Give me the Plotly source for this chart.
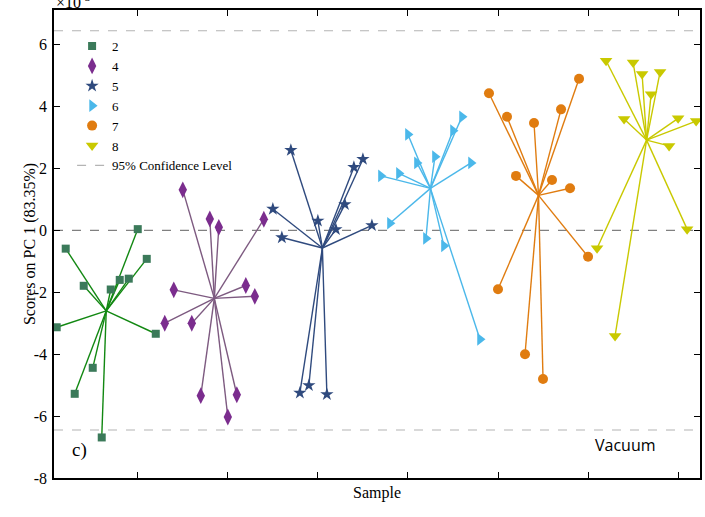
import plotly.graph_objects as go

# ---- data ----
group_names = ["2", "4", "5", "6", "7", "8"]

samples_2 = list(range(1, 13))
samples_4 = list(range(13, 25))
samples_5 = list(range(25, 37))
samples_6 = list(range(37, 49))
samples_7 = list(range(49, 61))
samples_8 = list(range(61, 73))

scores_2 = [-3.13, -0.59, -5.28, -1.79, -4.44, -6.69, -1.91, -1.60, -1.56, 0.04, -0.92, -3.34]
scores_4 = [-3.00, -1.92, 1.31, -3.00, -5.34, 0.37, 0.10, -6.03, -5.31, -1.78, -2.13, 0.36]
scores_5 = [0.69, -0.23, 2.59, -5.25, -5.01, 0.31, -5.30, 0.03, 0.84, 2.04, 2.30, 0.16]
scores_6 = [1.76, 0.23, 1.84, 3.10, 2.18, -0.26, 2.38, -0.50, 3.22, 3.67, 2.18, -3.52]
scores_7 = [4.43, -1.90, 3.67, 1.76, -4.00, 3.47, -4.80, 1.63, 3.91, 1.36, 4.90, -0.85]
scores_8 = [-0.58, 5.48, -3.41, 3.60, 5.42, 5.05, 4.40, 5.12, 2.73, 3.62, 0.04, 3.53]

confidence_limit = 6.45
y_tick_vals = [-8, -6, -4, -2, 0, 2, 4, 6]
y_tick_text = ["-8", "-6", "-4", "-2", "0", "2", "4", "6"]
x_tick_vals = [10, 20, 30, 40, 50, 60, 70]

# ---- styles ----
marker_colors = ["#3b7a5a", "#7b2d8e", "#2f4a7e", "#4bb8ea", "#e07c10", "#c9c900"]
line_colors = ["#128812", "#7d5a80", "#2f4a7e", "#4bb8ea", "#e07c10", "#c9c900"]
symbols = ["square", "diamond-tall", "star", "triangle-right", "circle", "triangle-down"]
sizes = [8, 12, 10, 11, 10, 11]

groups_x = [samples_2, samples_4, samples_5, samples_6, samples_7, samples_8]
groups_y = [scores_2, scores_4, scores_5, scores_6, scores_7, scores_8]

SERIF = "Liberation Serif"
x_lo, x_hi = 0.70, 72.43

fig = go.Figure()

# confidence lines (drawn first, legend last)
fig.add_trace(go.Scatter(
    x=[x_lo, x_hi, None, x_lo, x_hi],
    y=[confidence_limit, confidence_limit, None, -confidence_limit, -confidence_limit],
    mode="lines", line=dict(color="#b4b4b4", width=1.2, dash="dash"),
    name="95% Confidence Level", legendrank=7, hoverinfo="skip"))
# zero line
fig.add_trace(go.Scatter(
    x=[x_lo, x_hi], y=[0, 0], mode="lines",
    line=dict(color="#808080", width=1.2, dash="dash"),
    showlegend=False, hoverinfo="skip"))

# star lines from each group's centroid
for i, (xs, ys) in enumerate(zip(groups_x, groups_y)):
    cx = sum(xs) / len(xs)
    cy = sum(ys) / len(ys)
    lx, ly = [], []
    for px, py in zip(xs, ys):
        lx += [cx, px, None]
        ly += [cy, py, None]
    fig.add_trace(go.Scatter(x=lx, y=ly, mode="lines",
                             line=dict(color=line_colors[i], width=1.4),
                             showlegend=False, hoverinfo="skip"))

for i, (xs, ys) in enumerate(zip(groups_x, groups_y)):
    fig.add_trace(go.Scatter(x=xs, y=ys, mode="markers", name=group_names[i],
                             legendrank=i + 1,
                             marker=dict(symbol=symbols[i], size=sizes[i],
                                         color=marker_colors[i], line=dict(width=0))))

axis_common = dict(showline=True, linecolor="black", linewidth=1.5, mirror="ticks",
                   ticks="inside", ticklen=6, tickwidth=1.2, tickcolor="black",
                   showgrid=False, zeroline=False)

fig.update_layout(
    width=705, height=517,
    margin=dict(l=54, r=3, t=10, b=39),
    paper_bgcolor="white", plot_bgcolor="white",
    font=dict(family=SERIF, size=16, color="black"),
    xaxis=dict(range=[x_lo, x_hi], tickvals=x_tick_vals, showticklabels=False,
               title=dict(text="Sample", font=dict(family=SERIF, size=16), standoff=8),
               **axis_common),
    yaxis=dict(range=[-8, 7.12], tickvals=y_tick_vals, ticktext=y_tick_text,
               ticklabelstandoff=2, **axis_common),
    legend=dict(x=0.028, y=0.955, xanchor="left", yanchor="top",
                bgcolor="rgba(0,0,0,0)", borderwidth=0,
                font=dict(family=SERIF, size=13), itemwidth=30),
    annotations=[
        dict(text="Scores on PC 1 (83.35%)", xref="paper", yref="paper",
             x=-0.037, y=0.5, xanchor="center", yanchor="middle", textangle=-90,
             showarrow=False, font=dict(family=SERIF, size=16)),
        dict(text="\u00d710<sup>-3</sup>", xref="paper", yref="paper", x=0, y=1,
             xanchor="left", yanchor="bottom", yshift=-3, showarrow=False,
             font=dict(family=SERIF, size=16)),
        dict(text="c)", xref="paper", yref="paper", x=0.025, y=0.06,
             xanchor="left", yanchor="middle", showarrow=False,
             font=dict(family=SERIF, size=19)),
        dict(text="Vacuum", xref="paper", yref="paper", x=0.835, y=0.07,
             xanchor="left", yanchor="middle", showarrow=False,
             font=dict(family="Open Sans", size=16)),
    ],
)

fig.write_html("out.html")
